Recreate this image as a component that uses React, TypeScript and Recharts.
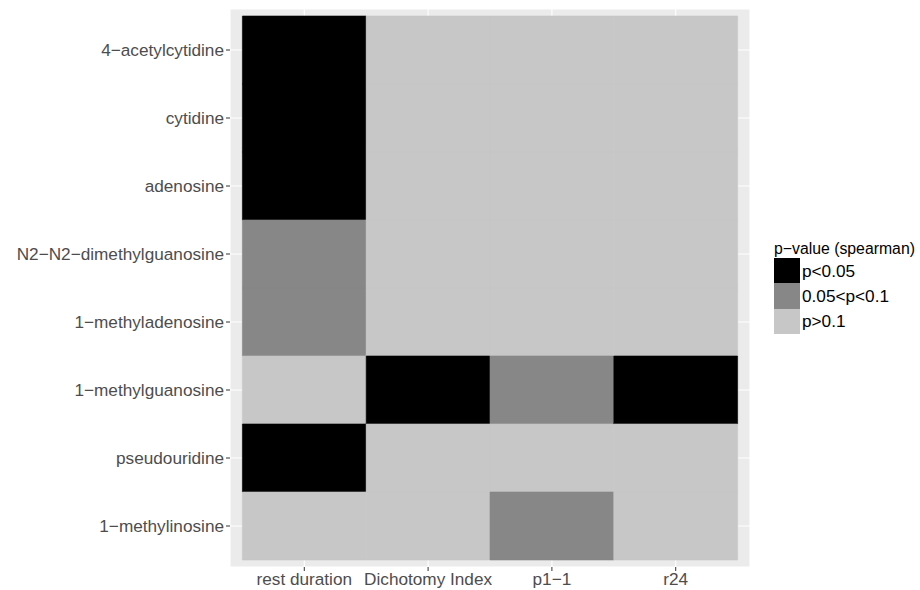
import React from 'react';
import { BarChart, Bar, XAxis, YAxis, CartesianGrid, Cell } from 'recharts';

// metabolites, top to bottom
const metabolites = [
  '4−acetylcytidine',
  'cytidine',
  'adenosine',
  'N2−N2−dimethylguanosine',
  '1−methyladenosine',
  '1−methylguanosine',
  'pseudouridine',
  '1−methylinosine',
];

const measures = ['rest duration', 'Dichotomy Index', 'p1−1', 'r24'];
const measureTicks = [0.5, 1.5, 2.5, 3.5];

// significance class per cell: 0 = p<0.05, 1 = 0.05<p<0.1, 2 = p>0.1
const restDuration = [0, 0, 0, 1, 1, 2, 0, 2];
const dichotomyIndex = [2, 2, 2, 2, 2, 0, 2, 2];
const p11 = [2, 2, 2, 2, 2, 1, 2, 1];
const r24 = [2, 2, 2, 2, 2, 0, 2, 2];

const levels = ['p<0.05', '0.05<p<0.1', 'p>0.1'];
const levelColors = ['#000000', '#878787', '#C7C7C7'];

const columns = [restDuration, dichotomyIndex, p11, r24];

const data = metabolites.map((name) => ({ name, c0: 1, c1: 1, c2: 1, c3: 1 }));

const font = '"Liberation Sans", Arial, Helvetica, sans-serif';
const axisFont = 17.2;

const PLegend = () => (
  <div style={{ position: 'absolute', left: 774, top: 240, fontFamily: font, color: '#000' }}>
    <div style={{ fontSize: 15.8, lineHeight: '18px', whiteSpace: 'nowrap' }}>p−value (spearman)</div>
    {levels.map((lv, i) => (
      <div key={lv} style={{ display: 'flex', alignItems: 'center', height: 25.3 }}>
        <div style={{ width: 26, height: 25.3, background: levelColors[i] }} />
        <span style={{ marginLeft: 2, fontSize: axisFont, lineHeight: '20px' }}>{lv}</span>
      </div>
    ))}
  </div>
);

export default function App() {
  return (
    <div style={{ position: 'absolute', left: 0, top: 0, width: 920, height: 590, background: '#fff' }}>
      <BarChart
        width={920}
        height={590}
        data={data}
        layout="vertical"
        barCategoryGap={0}
        margin={{ top: 9, right: 170, bottom: 0, left: 0 }}
      >
        <CartesianGrid fill="#EBEBEB" stroke="#FFFFFF" strokeWidth={1.1} />
        <XAxis
          type="number"
          domain={[-0.1, 4.1]}
          ticks={measureTicks}
          tickFormatter={(v: number) => measures[Math.floor(v)]}
          axisLine={false}
          tickSize={4}
          tickMargin={2}
          height={23}
          tick={{ fill: '#4D4D4D', fontSize: axisFont, fontFamily: font }}
          tickLine={{ stroke: '#333333' }}
          interval={0}
        />
        <YAxis
          type="category"
          dataKey="name"
          width={230}
          padding={{ top: 7, bottom: 7 }}
          axisLine={false}
          tickSize={4}
          tickMargin={2}
          tick={{ fill: '#4D4D4D', fontSize: axisFont, fontFamily: font }}
          tickLine={{ stroke: '#333333' }}
          interval={0}
        />
        {columns.map((col, ci) => (
          <Bar key={ci} dataKey={`c${ci}`} stackId="a" isAnimationActive={false}>
            {col.map((lv, ri) => (
              <Cell key={ri} fill={levelColors[lv]} stroke={levelColors[lv]} strokeWidth={0.6} />
            ))}
          </Bar>
        ))}
      </BarChart>
      <PLegend />
    </div>
  );
}
